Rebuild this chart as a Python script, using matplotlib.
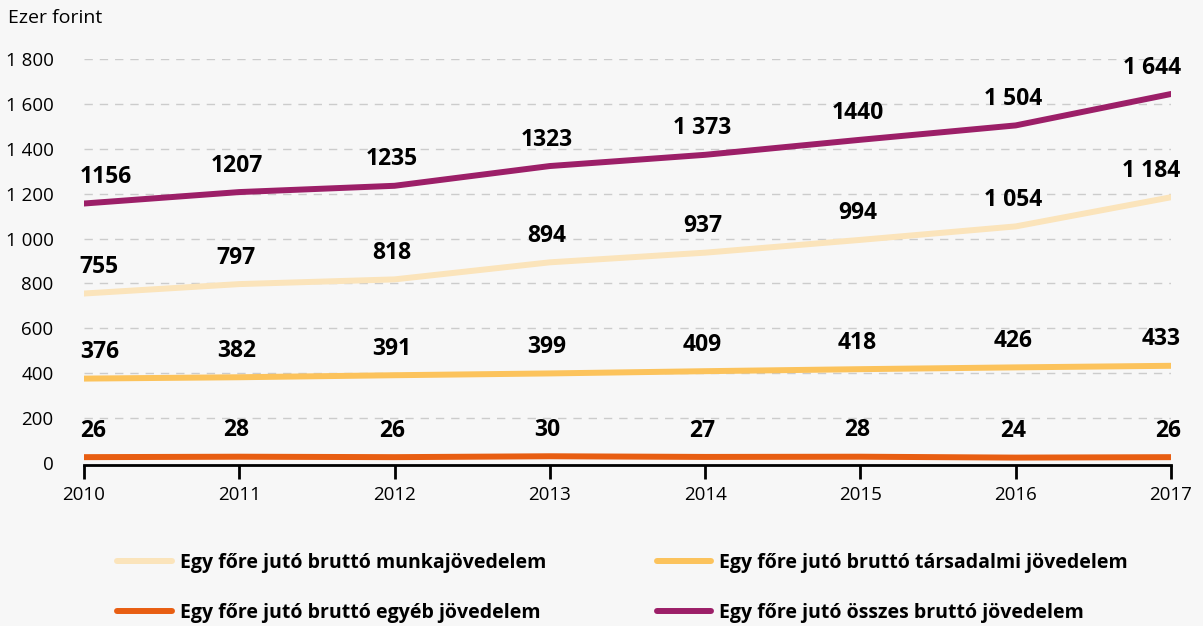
import matplotlib
matplotlib.use("Agg")
import matplotlib.pyplot as plt

plt.rcParams['font.family'] = ['Open Sans', 'DejaVu Sans']

years = [2010, 2011, 2012, 2013, 2014, 2015, 2016, 2017]
munka = [755, 797, 818, 894, 937, 994, 1054, 1184]
tarsadalmi = [376, 382, 391, 399, 409, 418, 426, 433]
egyeb = [26, 28, 26, 30, 27, 28, 24, 26]
osszes = [1156, 1207, 1235, 1323, 1373, 1440, 1504, 1644]

munka_labels = ["755", "797", "818", "894", "937", "994", "1 054", "1 184"]
tarsadalmi_labels = ["376", "382", "391", "399", "409", "418", "426", "433"]
egyeb_labels = ["26", "28", "26", "30", "27", "28", "24", "26"]
osszes_labels = ["1156", "1207", "1235", "1323", "1 373", "1440", "1 504", "1 644"]

yticks = [0, 200, 400, 600, 800, 1000, 1200, 1400, 1600, 1800]
ytick_labels = ["0", "200", "400", "600", "800", "1 000", "1 200", "1 400", "1 600", "1 800"]

series = [
    ("Egy főre jutó bruttó munkajövedelem", munka, munka_labels, "#fbe4bb"),
    ("Egy főre jutó bruttó egyéb jövedelem", egyeb, egyeb_labels, "#e85e12"),
    ("Egy főre jutó bruttó társadalmi jövedelem", tarsadalmi, tarsadalmi_labels, "#fcc35c"),
    ("Egy főre jutó összes bruttó jövedelem", osszes, osszes_labels, "#9c1f68"),
]

bg = "#f7f7f7"
fig = plt.figure(figsize=(12.03, 6.26), dpi=100, facecolor=bg)
ax = fig.add_axes([0.0698, 0.2604, 0.9036, 0.6454], facecolor=bg)

handles = []
for name, vals, labs, col in series:
    h, = ax.plot(years, vals, color=col, lw=4.3, solid_capstyle='round', label=name, zorder=3)
    handles.append(h)
    for i, (x, y, t) in enumerate(zip(years, vals, labs)):
        ha = "center"
        dx = -2
        if i == 0:
            ha, dx = "left", -3
        elif i == len(years) - 1:
            ha, dx = "right", 7
        ax.annotate(t, (x, y), xytext=(dx, 19), textcoords="offset points",
                    ha=ha, va="center", fontsize=16.5, fontweight="bold", color="black")

ax.set_xlim(2010, 2017)
ax.set_ylim(0, 1800)
ax.set_xticks(years)
ax.set_xticklabels([str(y) for y in years])
ax.set_yticks(yticks)
ax.set_yticklabels(ytick_labels)
for t in ax.get_yticklabels():
    t.set_horizontalalignment("right")
ax.tick_params(axis="both", labelsize=13.5)
ax.tick_params(axis="y", length=0, pad=22)
ax.tick_params(axis="x", length=10, width=2, color="black", pad=5, direction="out")
for s in ["top", "right", "left"]:
    ax.spines[s].set_visible(False)
ax.spines["bottom"].set_linewidth(2)
ax.spines["bottom"].set_position(("data", -8))
ax.spines["bottom"].set_bounds(2010, 2017)
ax.set_axisbelow(True)
ax.yaxis.grid(True, color="#cccccc", linestyle=(0, (6, 5)), lw=1)
ax.xaxis.grid(False)
gl = ax.get_ygridlines()
gl[0].set_visible(False)

fig.text(0.007, 0.972, "Ezer forint", fontsize=14, va="center", ha="left")

fig.legend(handles=handles, loc="upper left", bbox_to_anchor=(0.083, 0.145),
           ncol=2, frameon=False, handlelength=2.8, handletextpad=0.4,
           columnspacing=5.7, labelspacing=1.55,
           prop={"size": 14, "weight": "bold"})

fig.savefig("out.png", dpi=100, facecolor=bg)
